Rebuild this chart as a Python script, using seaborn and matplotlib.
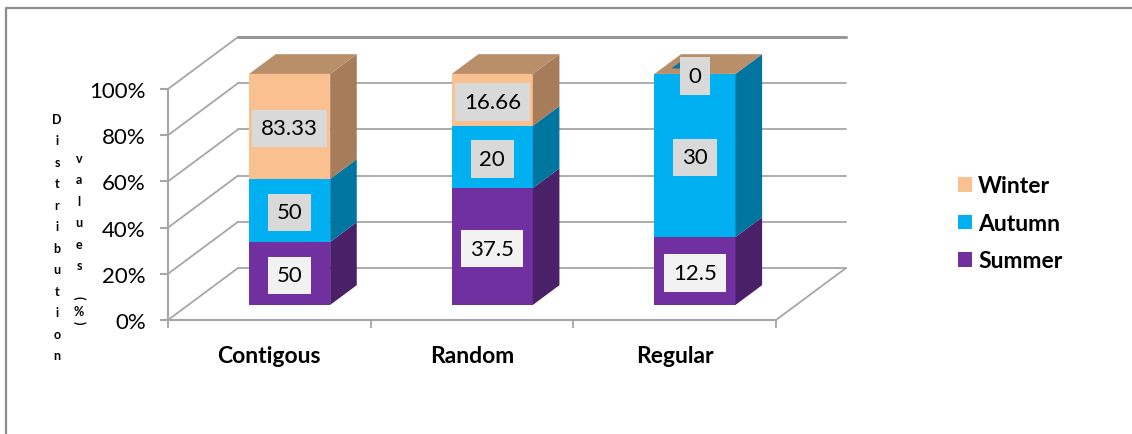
import matplotlib
matplotlib.use("Agg")
import matplotlib.pyplot as plt
from matplotlib.lines import Line2D
from matplotlib.patches import Patch, Polygon
import numpy as np
import pandas as pd
import seaborn as sns

# Seasonal distribution values per dispersion pattern
patterns = ["Contigous", "Random", "Regular"]
summer = [50, 37.5, 12.5]
autumn = [50, 20, 30]
winter = [83.33, 16.66, 0]

seasons = ["Summer", "Autumn", "Winter"]
front_colors = ["#7030A0", "#00B0F0", "#FAC090"]
side_colors = ["#4A2068", "#0075A0", "#A67C5A"]
top_color = "#B98F6A"
label_backs = ["#F2F2F2", "#D9D9D9", "#D9D9D9"]
value_labels = {"Summer": ["50", "37.5", "12.5"],
                "Autumn": ["50", "20", "30"],
                "Winter": ["83.33", "16.66", "0"]}

W, H = 1132, 435
sns.set_theme(style="white")
plt.rcParams["font.family"] = ["Lato", "DejaVu Sans"]
plt.rcParams["text.color"] = "black"

fig = plt.figure(figsize=(W / 100, H / 100), dpi=100)
ax = fig.add_axes([168 / W, (H - 321) / H, 608 / W, 231 / H])

GRID = "#A6A6A6"
# Oblique projection: depth 1 is the back wall of the chart box
WALL_DX, WALL_DY = 0.3454, 22.5
BAR_NEAR, BAR_FAR = 0.29, 0.67
BAR_WIDTH = 0.4


def project(x, y, depth):
    return x + depth * WALL_DX, y + depth * WALL_DY


# Side wall and back wall gridlines
for level in range(0, 101, 20):
    x0, y0 = project(-0.5, level, 0)
    x1, y1 = project(-0.5, level, 1)
    x2, y2 = project(2.5, level, 1)
    ax.plot([x0, x1], [y0, y1], color=GRID, lw=1.3, zorder=0.5, clip_on=False)
    ax.plot([x1, x2], [y1, y2], color="#999999" if level == 100 else GRID,
            lw=2.2 if level == 100 else 1.3, zorder=0.5, clip_on=False)
xa, ya = project(2.5, 0, 0)
xb, yb = project(2.5, 0, 1)
ax.plot([xa, xb], [ya, yb], color=GRID, lw=1.3, zorder=0.5, clip_on=False)

# Front faces: each season is stacked as a share of the pattern total
table = pd.DataFrame({"Summer": summer, "Autumn": autumn, "Winter": winter}, index=patterns)
shares = table.div(table.sum(axis=1), axis=0) * 100
centers = np.arange(len(patterns)) + BAR_NEAR * WALL_DX
lift = BAR_NEAR * WALL_DY
bottoms = np.zeros(len(patterns))

for season, face, side, back in zip(seasons, front_colors, side_colors, label_backs):
    values = shares[season].to_numpy()
    frame = pd.DataFrame({"pos": centers, "share": values})
    sns.barplot(data=frame, x="pos", y="share", native_scale=True, bottom=bottoms + lift,
                width=BAR_WIDTH, color=face, saturation=1, linewidth=0, zorder=3,
                ax=ax, legend=False)
    for i, c in enumerate(centers):
        base = bottoms[i]
        right = c - BAR_NEAR * WALL_DX + BAR_WIDTH / 2
        pts = [project(right, base, BAR_NEAR), project(right, base, BAR_FAR),
               project(right, base + values[i], BAR_FAR), project(right, base + values[i], BAR_NEAR)]
        ax.add_patch(Polygon(pts, closed=True, fc=side, ec="none", zorder=3, clip_on=False))
    bottoms = bottoms + values

# Bars reach above the 100% tick because of the depth offset
for patch in ax.patches:
    patch.set_clip_on(False)

# Top faces; an empty winter segment lets a sliver of the autumn colour show through
for i, c in enumerate(centers):
    left = c - BAR_NEAR * WALL_DX - BAR_WIDTH / 2
    right = left + BAR_WIDTH
    top = bottoms[i]
    pts = [project(left, top, BAR_NEAR), project(right, top, BAR_NEAR),
           project(right, top, BAR_FAR), project(left, top, BAR_FAR)]
    ax.add_patch(Polygon(pts, closed=True, fc=top_color, ec="none", zorder=3, clip_on=False))
    if winter[i] == 0:
        span = BAR_FAR - BAR_NEAR
        sliver = [project(left + 0.117 * BAR_WIDTH, top, BAR_NEAR + 0.28 * span),
                  project(left + 0.12 * BAR_WIDTH, top, BAR_NEAR + 0.6 * span),
                  project(left + 0.23 * BAR_WIDTH, top, BAR_NEAR + 0.28 * span)]
        ax.add_patch(Polygon(sliver, closed=True, fc=side_colors[1], ec="none", zorder=3.5, clip_on=False))

# Value labels centred on each front face
start = np.zeros(len(patterns))
for season, back in zip(seasons, label_backs):
    values = shares[season].to_numpy()
    for i, c in enumerate(centers):
        ax.text(c, start[i] + values[i] / 2 + lift, value_labels[season][i], ha="center",
                va="center_baseline", fontsize=16, color="black", zorder=6, clip_on=False,
                bbox=dict(boxstyle="square,pad=0.4", fc=back, ec="none"))
    start = start + values

# Axes furniture
ax.set_xlim(-0.5, 2.5)
ax.set_ylim(0, 100)
ax.set_xlabel("")
ax.set_ylabel("")
ax.patch.set_alpha(0)
for name, spine in ax.spines.items():
    spine.set_visible(name in ("left", "bottom"))
    spine.set_color(GRID)
    spine.set_linewidth(1.5)
    spine.set_zorder(1)
ax.set_yticks(range(0, 101, 20))
ax.set_yticklabels([f"{v}%" for v in range(0, 101, 20)], fontsize=16)
ax.set_xticks([-0.5, 0.5, 1.5, 2.5])
ax.set_xticklabels([])
ax.set_xticks([0, 1, 2], labels=patterns, minor=True)
ax.tick_params(axis="y", left=True, length=6, width=1.5, color=GRID, pad=10, labelcolor="black")
ax.tick_params(axis="x", which="major", bottom=True, length=6, width=1.3, color=GRID)
ax.tick_params(axis="x", which="minor", bottom=False, length=0, pad=18, labelcolor="black")
for tick in ax.get_xticklabels(minor=True):
    tick.set_fontsize(16.5)
    tick.set_fontweight("bold")

# Stacked axis titles
fig.text(57 / W, 1 - 238 / H, "\n".join("Distribution"), ha="center", va="center",
         multialignment="center", fontsize=9, fontweight="bold", linespacing=1.95)
fig.text(79 / W, 1 - 212.5 / H, "\n".join("values"), ha="center", va="center",
         multialignment="center", fontsize=9, fontweight="bold", linespacing=1.95)
fig.text(79 / W, 1 - 298 / H, "(", rotation=-90, ha="center", va="center", fontsize=9, fontweight="bold")
fig.text(79 / W, 1 - 312 / H, "%", ha="center", va="center", fontsize=9, fontweight="bold")
fig.text(79 / W, 1 - 323 / H, ")", rotation=-90, ha="center", va="center", fontsize=9, fontweight="bold")

# Legend, newest season first
handles = [Patch(fc=c, ec="none", label=s) for s, c in zip(seasons, front_colors)][::-1]
leg = fig.legend(handles=handles, loc="center left", bbox_to_anchor=(958 / W, 1 - 224.5 / H),
                 frameon=False, borderpad=0, borderaxespad=0, handlelength=0.61, handleheight=0.61,
                 handletextpad=0.26, labelspacing=0.72, prop={"size": 16.5, "weight": "bold"})

# Outer chart frame, open towards the right and bottom
for xs, ys in (([6 / W, 6 / W], [0, 1 - 9 / H]), ([6 / W, 1], [1 - 9 / H, 1 - 9 / H])):
    fig.add_artist(Line2D(xs, ys, color="#8C8C8C", lw=1.6))

fig.savefig("out.png", dpi=100, facecolor="white")
